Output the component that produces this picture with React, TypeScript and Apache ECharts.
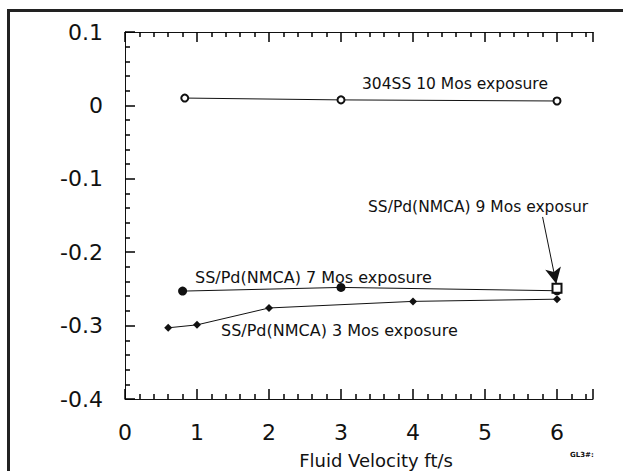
import React, { useEffect, useRef } from "react";
import * as echarts from "echarts";

const xTickLabels = ["0", "1", "2", "3", "4", "5", "6"];
const yTickLabels = ["-0.4", "-0.3", "-0.2", "-0.1", "0", "0.1"];

const x304 = [0.83, 3, 6];
const y304 = [0.01, 0.0075, 0.006];
const x7 = [0.8, 3, 6];
const y7 = [-0.253, -0.248, -0.2525];
const x3 = [0.6, 1, 2, 4, 6];
const y3 = [-0.303, -0.299, -0.276, -0.267, -0.264];
const x9 = [6];
const y9 = [-0.249];

const label304 = "304SS 10 Mos exposure";
const label7 = "SS/Pd(NMCA) 7 Mos exposure";
const label3 = "SS/Pd(NMCA) 3 Mos exposure";
const label9 = "SS/Pd(NMCA) 9 Mos exposure";
const xName = "Fluid Velocity ft/s";
const tag = "GL3#:";

const FONT = "DejaVu Sans";
const black = "#111";

function pairs(xs: number[], ys: number[]) {
  return xs.map((x, i) => [x, ys[i]]);
}

function axisParts() {
  return {
    axisLine: { show: true, onZero: false, lineStyle: { color: black, width: 1 } },
    axisTick: { show: true, inside: true, length: 10, lineStyle: { color: "#000", width: 1.5 } },
    minorTick: { show: true, splitNumber: 5, length: 5, lineStyle: { color: "#000", width: 1.5 } },
    splitLine: { show: false },
  };
}

export default function App() {
  const ref = useRef<HTMLDivElement>(null);
  useEffect(() => {
    if (!ref.current) return;
    const chart = echarts.init(ref.current, undefined, { renderer: "svg" });
    chart.setOption({
      animation: false,
      grid: { left: 125, top: 32, right: 30, bottom: 72 },
      xAxis: [
        {
          type: "value",
          min: 0,
          max: 6.5,
          interval: 1,
          position: "bottom",
          ...axisParts(),
          axisLabel: {
            margin: 22,
            fontSize: 22,
            fontFamily: FONT,
            color: black,
            formatter: (v: number) => {
              const i = Math.round(v);
              return Math.abs(v - i) < 1e-6 ? xTickLabels[i] ?? "" : "";
            },
          },
        },
        {
          type: "value",
          min: 0,
          max: 6.5,
          interval: 1,
          position: "top",
          ...axisParts(),
          axisLabel: { show: false },
        },
      ],
      yAxis: {
        type: "value",
        min: -0.4,
        max: 0.1,
        interval: 0.1,
        ...axisParts(),
        axisLabel: {
          margin: 22,
          fontSize: 22,
          fontFamily: FONT,
          color: black,
          formatter: (v: number) => {
            const i = Math.round((v + 0.4) * 10);
            return yTickLabels[i] ?? "";
          },
        },
      },
      series: [
        {
          type: "line",
          data: pairs(x304, y304),
          symbol: "emptyCircle",
          symbolSize: 7,
          lineStyle: { color: black, width: 1 },
          itemStyle: { color: black, borderWidth: 1 },
        },
        {
          type: "line",
          data: pairs(x7, y7),
          symbol: "circle",
          symbolSize: 9,
          lineStyle: { color: black, width: 1 },
          itemStyle: { color: black },
        },
        {
          type: "line",
          data: pairs(x3, y3),
          symbol: "diamond",
          symbolSize: 8,
          lineStyle: { color: black, width: 1 },
          itemStyle: { color: black },
        },
        {
          type: "line",
          data: pairs(x9, y9),
          symbol: "emptyRect",
          symbolSize: 9,
          z: 5,
          itemStyle: { color: black, borderWidth: 1 },
          markLine: {
            silent: true,
            symbol: ["none", "arrow"],
            symbolSize: [12, 16],
            label: { show: false },
            lineStyle: { color: black, width: 1, type: "solid" },
            data: [[{ coord: [5.8, -0.152] }, { coord: [5.99, -0.243] }]],
          },
        },
      ],
      graphic: [
        {
          type: "text",
          x: 362,
          y: 84,
          style: { text: label304, font: `15.5px ${FONT}`, fill: black, verticalAlign: "middle" },
        },
        {
          type: "text",
          x: 368,
          y: 207,
          style: {
            text: label9,
            font: `15.5px ${FONT}`,
            fill: black,
            verticalAlign: "middle",
            width: 225,
            overflow: "truncate",
            ellipsis: "",
          },
        },
        {
          type: "text",
          x: 195,
          y: 277,
          style: { text: label7, font: `16px ${FONT}`, fill: black, verticalAlign: "middle" },
        },
        {
          type: "text",
          x: 221,
          y: 330,
          style: { text: label3, font: `16px ${FONT}`, fill: black, verticalAlign: "middle" },
        },
        {
          type: "text",
          x: 376,
          y: 460,
          style: { text: xName, font: `18px ${FONT}`, fill: black, align: "center", verticalAlign: "middle" },
        },
        {
          type: "text",
          x: 570,
          y: 455,
          style: { text: tag, font: `bold 7px ${FONT}`, fill: black, verticalAlign: "middle" },
        },
      ],
    });
    return () => chart.dispose();
  }, []);
  return (
    <div style={{ position: "absolute", left: 0, top: 0, width: 623, height: 471, overflow: "hidden", background: "#fff" }}>
      <div
        style={{
          position: "absolute",
          left: 7,
          top: 9,
          width: 700,
          height: 600,
          borderLeft: "3px solid #222",
          borderTop: "3px solid #222",
        }}
      />
      <div ref={ref} style={{ position: "absolute", left: 0, top: 0, width: 623, height: 471 }} />
    </div>
  );
}
